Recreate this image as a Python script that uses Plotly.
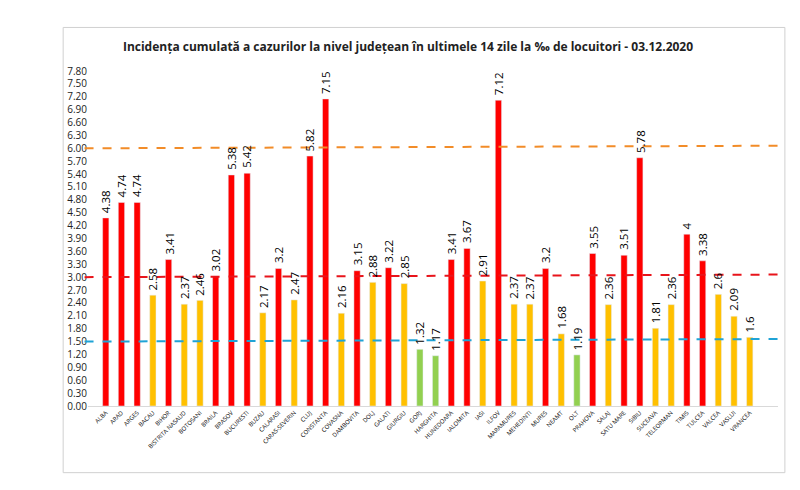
import plotly.graph_objects as go

judete = ["ALBA","ARAD","ARGES","BACAU","BIHOR","BISTRITA NASAUD","BOTOSANI","BRAILA","BRASOV","BUCURESTI","BUZAU","CALARASI","CARAS-SEVERIN","CLUJ","CONSTANTA","COVASNA","DAMBOVITA","DOLJ","GALATI","GIURGIU","GORJ","HARGHITA","HUNEDOARA","IALOMITA","IASI","ILFOV","MARAMURES","MEHEDINTI","MURES","NEAMT","OLT","PRAHOVA","SALAJ","SATU MARE","SIBIU","SUCEAVA","TELEORMAN","TIMIS","TULCEA","VALCEA","VASLUI","VRANCEA"]
valori = [4.38,4.74,4.74,2.58,3.41,2.37,2.46,3.02,5.38,5.42,2.17,3.2,2.47,5.82,7.15,2.16,3.15,2.88,3.22,2.85,1.32,1.17,3.41,3.67,2.91,7.12,2.37,2.37,3.2,1.68,1.19,3.55,2.36,3.51,5.78,1.81,2.36,4,3.38,2.6,2.09,1.6]
etichete = ["4.38","4.74","4.74","2.58","3.41","2.37","2.46","3.02","5.38","5.42","2.17","3.2","2.47","5.82","7.15","2.16","3.15","2.88","3.22","2.85","1.32","1.17","3.41","3.67","2.91","7.12","2.37","2.37","3.2","1.68","1.19","3.55","2.36","3.51","5.78","1.81","2.36","4","3.38","2.6","2.09","1.6"]
praguri = [6.0, 3.0, 1.5]
culori_prag = ["#F28C28", "#E8141B", "#1FA3D6"]

def culoare(v):
    if v >= 3: return "#FF0000"
    if v >= 1.5: return "#FFC000"
    return "#92D050"

fig = go.Figure(go.Bar(
    x=judete, y=valori, marker_color=[culoare(v) for v in valori], width=0.4))

for j, v, t in zip(judete, valori, etichete):
    fig.add_annotation(x=j, y=v, text=t, textangle=-90, showarrow=False,
                       yanchor="bottom", yshift=3,
                       font=dict(family="Open Sans", size=11.5, color="black"))

for p, c in zip(praguri, culori_prag):
    fig.add_shape(type="line", xref="paper", yref="y", x0=-0.005, x1=1.0, y0=p, y1=p + 0.06,
                  line=dict(color=c, width=2, dash="dash"), layer="above")

fig.add_shape(type="rect", xref="paper", yref="paper", x0=-0.036, x1=1.01, y0=-0.199, y1=1.13,
              line=dict(color="#D0D0D0", width=1))

fig.update_layout(
    width=800, height=490, plot_bgcolor="white", paper_bgcolor="white",
    margin=dict(l=80, r=30, t=63, b=92),
    title=dict(text="<b>Incidența cumulată a cazurilor la nivel județean în ultimele 14 zile la ‰ de locuitori - 03.12.2020</b>",
               x=0.5, y=0.93, xanchor="center", font=dict(family="Open Sans", size=12, color="#222")),
    font=dict(family="Open Sans", color="black"),
    showlegend=False,
)
fig.update_yaxes(range=[0, 7.8], tickvals=[i * 0.3 for i in range(27)],
                 ticktext=[f"{i*0.3:.2f}" for i in range(27)], tickfont=dict(size=10, color="#222"),
                 showgrid=False, showline=False, zeroline=False, ticks="", automargin=False)
fig.update_xaxes(tickangle=-45, tickfont=dict(size=6), showline=True, linecolor="#D9D9D9",
                 range=[-1.13, 42.8], automargin=False, ticks="")
fig.write_html("out.html")
